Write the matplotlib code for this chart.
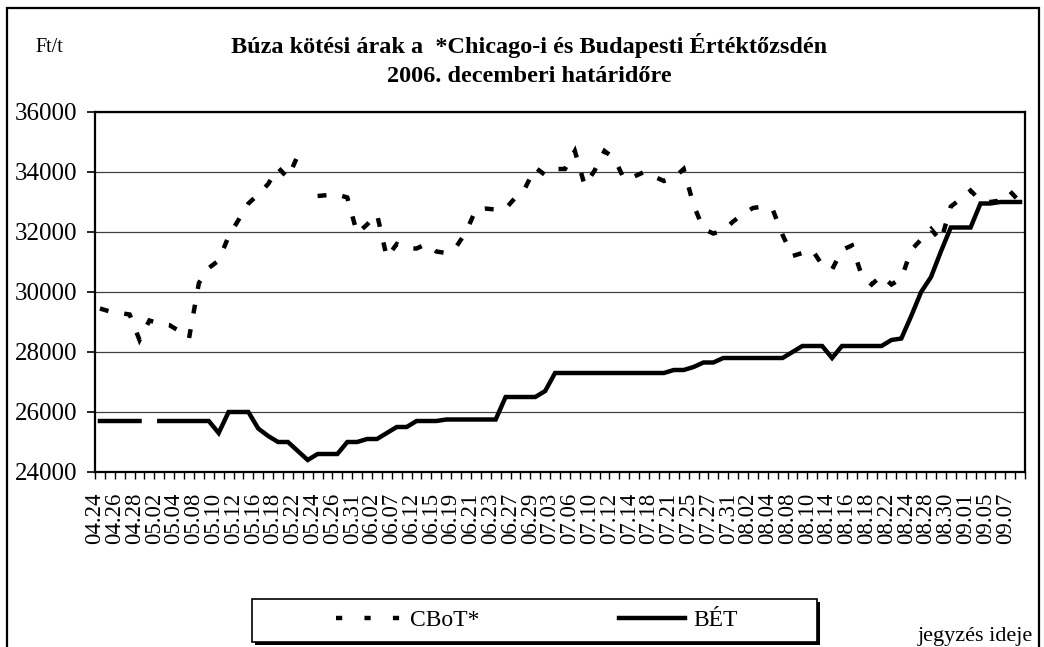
import numpy as np
import matplotlib
matplotlib.use("Agg")
import matplotlib.pyplot as plt
from matplotlib.lines import Line2D
from matplotlib.patches import Rectangle
from matplotlib.transforms import ScaledTranslation

plt.rcParams['font.family'] = ['Liberation Serif', 'DejaVu Serif']

dates = ["04.24", "04.25", "04.26", "04.27", "04.28", "05.01", "05.02", "05.03", "05.04", "05.05",
         "05.08", "05.09", "05.10", "05.11", "05.12", "05.15", "05.16", "05.17", "05.18", "05.19",
         "05.22", "05.23", "05.24", "05.25", "05.26", "05.30", "05.31", "06.01", "06.02", "06.06",
         "06.07", "06.09", "06.12", "06.14", "06.15", "06.16", "06.19", "06.20", "06.21", "06.22",
         "06.23", "06.26", "06.27", "06.28", "06.29", "06.30", "07.03", "07.05", "07.06", "07.07",
         "07.10", "07.11", "07.12", "07.13", "07.14", "07.17", "07.18", "07.20", "07.21", "07.24",
         "07.25", "07.26", "07.27", "07.28", "07.31", "08.01", "08.02", "08.03", "08.04", "08.07",
         "08.08", "08.09", "08.10", "08.11", "08.14", "08.15", "08.16", "08.17", "08.18", "08.21",
         "08.22", "08.23", "08.24", "08.25", "08.28", "08.29", "08.30", "08.31", "09.01", "09.04",
         "09.05", "09.06", "09.07", "09.08"]

nan = np.nan
cbot = [29450, 29350, 29300, 29250, 28400, 29050, 28950, 28900, 28700, 28450,
        30300, 30800, 31050, 31850, 32400, 32950, 33250, 33600, 34150, 33800,
        34550, nan, 33200, 33230, 33250, 33150, 31950, 32250, 32600, 31150,
        31600, 31450, 31450, 31600, 31350, 31300, 31500, 32000, 32750, 32780,
        32750, 32780, 33150, 33480, 34150, 33900, 34100, 34100, 34700, 33550,
        34050, 34700, 34450, 33750, 33850, 34000, 33850, 33700, 33800, 34100,
        32900, 32100, 31950, 32050, 32350, 32600, 32800, 32850, 32750, 31900,
        31200, 31300, 31400, 30900, 30750, 31400, 31550, 30550, 30250, 30550,
        30250, 30450, 31400, 31750, 32100, 31700, 32850, 33100, 33380, 33050,
        33000, 33050, 33350, 33000]

bet = [25700, 25700, 25700, 25700, 25700, nan, 25700, 25700, 25700, 25700,
       25700, 25700, 25300, 26000, 26000, 26000, 25450, 25200, 25000, 25000,
       24700, 24400, 24600, 24600, 24600, 25000, 25000, 25100, 25100, 25300,
       25500, 25500, 25700, 25700, 25700, 25750, 25750, 25750, 25750, 25750,
       25750, 26500, 26500, 26500, 26500, 26700, 27300, 27300, 27300, 27300,
       27300, 27300, 27300, 27300, 27300, 27300, 27300, 27300, 27400, 27400,
       27500, 27650, 27650, 27800, 27800, 27800, 27800, 27800, 27800, 27800,
       28000, 28200, 28200, 28200, 27800, 28200, 28200, 28200, 28200, 28200,
       28400, 28450, 29200, 30000, 30500, 31350, 32150, 32150, 32150, 32950,
       32950, 33000, 33000, 33000]

series_names = ["CBoT*", "BÉT"]
yticks = [24000, 26000, 28000, 30000, 32000, 34000, 36000]

W, H = 1044, 647
fig = plt.figure(figsize=(W / 100, H / 100), dpi=100)
ax = fig.add_axes([95 / W, 1 - 472 / H, 930 / W, 360 / H])

x = np.arange(len(dates))
ax.plot(x, cbot, color='black', lw=3.2, linestyle=(0, (2.0, 3.6)),
        dash_capstyle='butt', dash_joinstyle='miter', zorder=3)
ax.plot(x, bet, color='black', lw=3.2, solid_joinstyle='miter', zorder=4)

ax.set_xlim(-0.5, len(dates) - 0.5)
ax.set_ylim(24000, 36000)
ax.set_yticks(yticks)
ax.set_yticklabels([str(v) for v in yticks], fontsize=18)
ax.yaxis.grid(True, color='#404040', lw=0.9)
ax.set_axisbelow(True)

ax.set_xticks(x[::2])
ax.set_xticklabels(dates[::2], rotation=90, fontsize=16.5, va='top', ha='center')
ax.set_xticks(np.arange(-0.5, len(dates), 1.0), minor=True)
ax.tick_params(axis='x', which='major', length=0, pad=15)
ax.tick_params(axis='x', which='minor', length=5, width=1, direction='out')
ax.tick_params(axis='y', length=6, width=1.2, direction='out', pad=7)
off = ScaledTranslation(-0.05, 0, fig.dpi_scale_trans)
for lab in ax.get_xticklabels():
    lab.set_transform(lab.get_transform() + off)
for s in ax.spines.values():
    s.set_linewidth(1.6)
    s.set_color('black')

# titles and annotations
fig.text(529 / W, 1 - 45 / H, "Búza kötési árak a  *Chicago-i és Budapesti Értéktőzsdén",
         ha='center', va='center', fontsize=17.5, fontweight='bold')
fig.text(529 / W, 1 - 77 / H, "2006. decemberi határidőre",
         ha='center', va='center', fontsize=17.5, fontweight='bold')
fig.text(35 / W, 1 - 47 / H, "Ft/t", ha='left', va='center', fontsize=14.5)
fig.text(1033 / W, 1 - 637 / H, "jegyzés ideje", ha='right', va='center', fontsize=16)

# outer frame
fig.patches.append(Rectangle((7 / W, -0.1), 1032 / W, 1.1 - 8 / H, transform=fig.transFigure,
                             fill=False, ec='black', lw=1.6))

# legend
h1 = Line2D([], [], color='black', lw=3.2, linestyle=(0, (1.4, 5.0)), dash_capstyle='butt')
h2 = Line2D([], [], color='black', lw=3.2)
fig.patches.append(Rectangle((255 / W, 1 - 645 / H), 565 / W, 43 / H, transform=fig.transFigure,
                             fill=True, fc='black', ec='none'))
fig.patches.append(Rectangle((252 / W, 1 - 642 / H), 565 / W, 43 / H, transform=fig.transFigure,
                             fill=True, fc='white', ec='black', lw=1.2))
leg = fig.legend([h1, h2], series_names, loc='center', bbox_to_anchor=(537 / W, 1 - 620 / H),
                 ncol=2, frameon=False, fontsize=17, handlelength=2.8, handletextpad=0.35,
                 columnspacing=5.9)

fig.savefig("out.png", dpi=100)
